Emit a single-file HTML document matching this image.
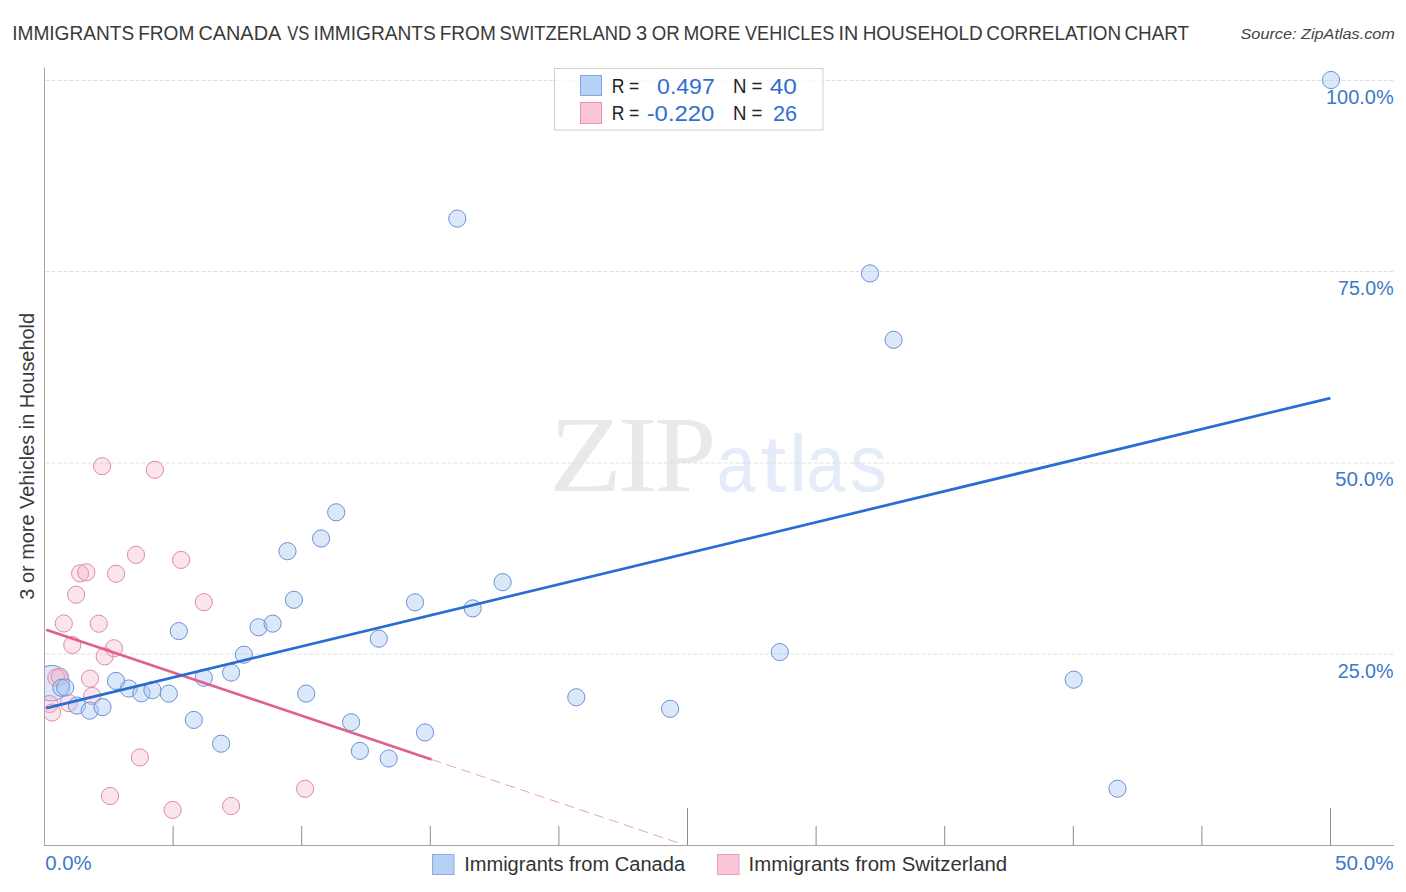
<!DOCTYPE html>
<html><head><meta charset="utf-8"><title>Immigrants from Canada vs Immigrants from Switzerland 3 or more Vehicles in Household Correlation Chart</title>
<style>
html,body{margin:0;padding:0;background:#fff;}
body{width:1406px;height:892px;overflow:hidden;position:relative;font-family:'Liberation Sans', sans-serif;}
svg{position:absolute;left:0;top:0;}
</style></head><body>
<svg width="1406" height="892" viewBox="0 0 1406 892">
<defs><clipPath id="pc"><rect x="45.0" y="60" width="1361.5" height="785.0"/></clipPath></defs>
<g>
<text transform="translate(12.18,39.9) scale(0.9744,1)" font-family="'Liberation Sans', sans-serif" font-style="normal" font-size="19.6" fill="#3a3a3a">IMMIGRANTS</text>
<text transform="translate(138.13,39.9) scale(0.9749,1)" font-family="'Liberation Sans', sans-serif" font-style="normal" font-size="19.6" fill="#3a3a3a">FROM</text>
<text transform="translate(198.4,39.9) scale(1.0149,1)" font-family="'Liberation Sans', sans-serif" font-style="normal" font-size="19.6" fill="#3a3a3a">CANADA</text>
<text transform="translate(287.19,39.9) scale(0.8436,1)" font-family="'Liberation Sans', sans-serif" font-style="normal" font-size="19.6" fill="#3a3a3a">VS</text>
<text transform="translate(313.57,39.9) scale(0.9758,1)" font-family="'Liberation Sans', sans-serif" font-style="normal" font-size="19.6" fill="#3a3a3a">IMMIGRANTS</text>
<text transform="translate(439.73,39.9) scale(0.9714,1)" font-family="'Liberation Sans', sans-serif" font-style="normal" font-size="19.6" fill="#3a3a3a">FROM</text>
<text transform="translate(499.58,39.9) scale(0.9389,1)" font-family="'Liberation Sans', sans-serif" font-style="normal" font-size="19.6" fill="#3a3a3a">SWITZERLAND</text>
<text transform="translate(636.12,39.9) scale(1.0255,1)" font-family="'Liberation Sans', sans-serif" font-style="normal" font-size="19.6" fill="#3a3a3a">3</text>
<text transform="translate(651.75,39.9) scale(0.954,1)" font-family="'Liberation Sans', sans-serif" font-style="normal" font-size="19.6" fill="#3a3a3a">OR</text>
<text transform="translate(683.62,39.9) scale(0.9658,1)" font-family="'Liberation Sans', sans-serif" font-style="normal" font-size="19.6" fill="#3a3a3a">MORE</text>
<text transform="translate(745.07,39.9) scale(0.9208,1)" font-family="'Liberation Sans', sans-serif" font-style="normal" font-size="19.6" fill="#3a3a3a">VEHICLES</text>
<text transform="translate(838.43,39.9) scale(1.0091,1)" font-family="'Liberation Sans', sans-serif" font-style="normal" font-size="19.6" fill="#3a3a3a">IN</text>
<text transform="translate(862.69,39.9) scale(0.9671,1)" font-family="'Liberation Sans', sans-serif" font-style="normal" font-size="19.6" fill="#3a3a3a">HOUSEHOLD</text>
<text transform="translate(986.26,39.9) scale(0.9634,1)" font-family="'Liberation Sans', sans-serif" font-style="normal" font-size="19.6" fill="#3a3a3a">CORRELATION</text>
<text transform="translate(1124.41,39.9) scale(0.9628,1)" font-family="'Liberation Sans', sans-serif" font-style="normal" font-size="19.6" fill="#3a3a3a">CHART</text>
</g>
<text transform="translate(1240.54,38.8) scale(1.0832,1)" font-family="'Liberation Sans', sans-serif" font-style="italic" font-size="15.0" fill="#444444">Source: ZipAtlas.com</text>
<text transform="translate(549.21,490.6) scale(1.0988,1)" font-family="'Liberation Serif', serif" font-style="normal" font-size="108.5" fill="#e9e9e9">Z</text>
<text transform="translate(617.62,490.6) scale(1.1065,1)" font-family="'Liberation Serif', serif" font-style="normal" font-size="108.5" fill="#e9e9e9">I</text>
<text transform="translate(654.36,490.6) scale(1.0299,1)" font-family="'Liberation Serif', serif" font-style="normal" font-size="108.5" fill="#e9e9e9">P</text>
<text transform="translate(716.52,491.0) scale(0.8672,1)" font-family="'Liberation Sans', sans-serif" font-style="normal" font-size="80.5" fill="#e4ecf9">a</text>
<text transform="translate(760.58,491.0) scale(1.1536,1)" font-family="'Liberation Sans', sans-serif" font-style="normal" font-size="80.5" fill="#e4ecf9">t</text>
<text transform="translate(788.71,491.0) scale(1.0471,1)" font-family="'Liberation Sans', sans-serif" font-style="normal" font-size="80.5" fill="#e4ecf9">l</text>
<text transform="translate(806.22,491.0) scale(0.8679,1)" font-family="'Liberation Sans', sans-serif" font-style="normal" font-size="80.5" fill="#e4ecf9">a</text>
<text transform="translate(849.73,491.0) scale(0.9291,1)" font-family="'Liberation Sans', sans-serif" font-style="normal" font-size="80.5" fill="#e4ecf9">s</text>
<line x1="45.5" y1="80.5" x2="1394" y2="80.5" stroke="#e0e0e0" stroke-width="1" stroke-dasharray="4 2"/>
<line x1="45.5" y1="271.5" x2="1394" y2="271.5" stroke="#e0e0e0" stroke-width="1" stroke-dasharray="4 2"/>
<line x1="45.5" y1="463.0" x2="1394" y2="463.0" stroke="#e0e0e0" stroke-width="1" stroke-dasharray="4 2"/>
<line x1="45.5" y1="654.0" x2="1394" y2="654.0" stroke="#e0e0e0" stroke-width="1" stroke-dasharray="4 2"/>
<line x1="44.5" y1="67.5" x2="44.5" y2="845.5" stroke="#a4a4a4" stroke-width="1"/>
<line x1="44.0" y1="845.5" x2="1394" y2="845.5" stroke="#a4a4a4" stroke-width="1"/>
<line x1="173.10" y1="826" x2="173.10" y2="845.0" stroke="#8c8c8c" stroke-width="1"/>
<line x1="301.70" y1="826" x2="301.70" y2="845.0" stroke="#8c8c8c" stroke-width="1"/>
<line x1="430.30" y1="826" x2="430.30" y2="845.0" stroke="#8c8c8c" stroke-width="1"/>
<line x1="558.90" y1="826" x2="558.90" y2="845.0" stroke="#8c8c8c" stroke-width="1"/>
<line x1="687.50" y1="808" x2="687.50" y2="845.0" stroke="#8c8c8c" stroke-width="1"/>
<line x1="816.10" y1="826" x2="816.10" y2="845.0" stroke="#8c8c8c" stroke-width="1"/>
<line x1="944.70" y1="826" x2="944.70" y2="845.0" stroke="#8c8c8c" stroke-width="1"/>
<line x1="1073.30" y1="826" x2="1073.30" y2="845.0" stroke="#8c8c8c" stroke-width="1"/>
<line x1="1201.90" y1="826" x2="1201.90" y2="845.0" stroke="#8c8c8c" stroke-width="1"/>
<line x1="1330.50" y1="808" x2="1330.50" y2="845.0" stroke="#8c8c8c" stroke-width="1"/>
<text transform="translate(1325.93,104.0) scale(1.0201,1)" font-family="'Liberation Sans', sans-serif" font-style="normal" font-size="19.6" fill="#3d78c9">100.0%</text>
<text transform="translate(1337.98,294.9) scale(1.0015,1)" font-family="'Liberation Sans', sans-serif" font-style="normal" font-size="19.6" fill="#3d78c9">75.0%</text>
<text transform="translate(1334.97,486.0) scale(1.0561,1)" font-family="'Liberation Sans', sans-serif" font-style="normal" font-size="19.6" fill="#3d78c9">50.0%</text>
<text transform="translate(1337.74,678.1) scale(1.0054,1)" font-family="'Liberation Sans', sans-serif" font-style="normal" font-size="19.6" fill="#3d78c9">25.0%</text>
<text transform="translate(45.21,869.8) scale(1.0404,1)" font-family="'Liberation Sans', sans-serif" font-style="normal" font-size="19.6" fill="#3d78c9">0.0%</text>
<text transform="translate(1334.97,869.6) scale(1.0561,1)" font-family="'Liberation Sans', sans-serif" font-style="normal" font-size="19.6" fill="#3d78c9">50.0%</text>
<text transform="translate(33.6,599.66) rotate(-90) scale(0.9965,1)" font-family="'Liberation Sans', sans-serif" font-size="20.0" fill="#3a3a3a">3 or more Vehicles in Household</text>
<g clip-path="url(#pc)">
<circle cx="51.5" cy="683.2" r="17.8" fill="#a9c9f2" fill-opacity="0.42" stroke="#6c91d9" stroke-width="1"/>
<circle cx="102.1" cy="466.2" r="8.6" fill="#f7b0c8" fill-opacity="0.34" stroke="#df8ba7" stroke-width="1"/>
<circle cx="154.9" cy="469.8" r="8.6" fill="#f7b0c8" fill-opacity="0.34" stroke="#df8ba7" stroke-width="1"/>
<circle cx="136" cy="554.8" r="8.6" fill="#f7b0c8" fill-opacity="0.34" stroke="#df8ba7" stroke-width="1"/>
<circle cx="181.1" cy="559.9" r="8.6" fill="#f7b0c8" fill-opacity="0.34" stroke="#df8ba7" stroke-width="1"/>
<circle cx="80.1" cy="573.4" r="8.6" fill="#f7b0c8" fill-opacity="0.34" stroke="#df8ba7" stroke-width="1"/>
<circle cx="86.3" cy="572.3" r="8.6" fill="#f7b0c8" fill-opacity="0.34" stroke="#df8ba7" stroke-width="1"/>
<circle cx="116.1" cy="573.7" r="8.6" fill="#f7b0c8" fill-opacity="0.34" stroke="#df8ba7" stroke-width="1"/>
<circle cx="76.1" cy="594.7" r="8.6" fill="#f7b0c8" fill-opacity="0.34" stroke="#df8ba7" stroke-width="1"/>
<circle cx="203.8" cy="602.2" r="8.6" fill="#f7b0c8" fill-opacity="0.34" stroke="#df8ba7" stroke-width="1"/>
<circle cx="63.8" cy="623.5" r="8.6" fill="#f7b0c8" fill-opacity="0.34" stroke="#df8ba7" stroke-width="1"/>
<circle cx="98.8" cy="623.7" r="8.6" fill="#f7b0c8" fill-opacity="0.34" stroke="#df8ba7" stroke-width="1"/>
<circle cx="72.3" cy="645.0" r="8.6" fill="#f7b0c8" fill-opacity="0.34" stroke="#df8ba7" stroke-width="1"/>
<circle cx="113.9" cy="648.3" r="8.6" fill="#f7b0c8" fill-opacity="0.34" stroke="#df8ba7" stroke-width="1"/>
<circle cx="104.7" cy="656.4" r="8.6" fill="#f7b0c8" fill-opacity="0.34" stroke="#df8ba7" stroke-width="1"/>
<circle cx="56.3" cy="677.7" r="8.6" fill="#f7b0c8" fill-opacity="0.34" stroke="#df8ba7" stroke-width="1"/>
<circle cx="59.9" cy="676.6" r="8.6" fill="#f7b0c8" fill-opacity="0.34" stroke="#df8ba7" stroke-width="1"/>
<circle cx="90.0" cy="678.7" r="8.6" fill="#f7b0c8" fill-opacity="0.34" stroke="#df8ba7" stroke-width="1"/>
<circle cx="92.2" cy="696.0" r="8.6" fill="#f7b0c8" fill-opacity="0.34" stroke="#df8ba7" stroke-width="1"/>
<circle cx="68.8" cy="703.1" r="8.6" fill="#f7b0c8" fill-opacity="0.34" stroke="#df8ba7" stroke-width="1"/>
<circle cx="49.5" cy="704.0" r="8.6" fill="#f7b0c8" fill-opacity="0.34" stroke="#df8ba7" stroke-width="1"/>
<circle cx="52.1" cy="712.5" r="8.6" fill="#f7b0c8" fill-opacity="0.34" stroke="#df8ba7" stroke-width="1"/>
<circle cx="305.1" cy="788.8" r="8.6" fill="#f7b0c8" fill-opacity="0.34" stroke="#df8ba7" stroke-width="1"/>
<circle cx="139.9" cy="757.4" r="8.6" fill="#f7b0c8" fill-opacity="0.34" stroke="#df8ba7" stroke-width="1"/>
<circle cx="110" cy="796" r="8.6" fill="#f7b0c8" fill-opacity="0.34" stroke="#df8ba7" stroke-width="1"/>
<circle cx="172.6" cy="809.9" r="8.6" fill="#f7b0c8" fill-opacity="0.34" stroke="#df8ba7" stroke-width="1"/>
<circle cx="231.1" cy="806" r="8.6" fill="#f7b0c8" fill-opacity="0.34" stroke="#df8ba7" stroke-width="1"/>
<circle cx="1331" cy="80" r="8.6" fill="#a9c9f2" fill-opacity="0.42" stroke="#6c91d9" stroke-width="1"/>
<circle cx="457.3" cy="218.6" r="8.6" fill="#a9c9f2" fill-opacity="0.42" stroke="#6c91d9" stroke-width="1"/>
<circle cx="870" cy="273.4" r="8.6" fill="#a9c9f2" fill-opacity="0.42" stroke="#6c91d9" stroke-width="1"/>
<circle cx="893.6" cy="339.8" r="8.6" fill="#a9c9f2" fill-opacity="0.42" stroke="#6c91d9" stroke-width="1"/>
<circle cx="336.2" cy="512.3" r="8.6" fill="#a9c9f2" fill-opacity="0.42" stroke="#6c91d9" stroke-width="1"/>
<circle cx="321.1" cy="538.5" r="8.6" fill="#a9c9f2" fill-opacity="0.42" stroke="#6c91d9" stroke-width="1"/>
<circle cx="287.5" cy="551.2" r="8.6" fill="#a9c9f2" fill-opacity="0.42" stroke="#6c91d9" stroke-width="1"/>
<circle cx="293.9" cy="599.8" r="8.6" fill="#a9c9f2" fill-opacity="0.42" stroke="#6c91d9" stroke-width="1"/>
<circle cx="415" cy="602.3" r="8.6" fill="#a9c9f2" fill-opacity="0.42" stroke="#6c91d9" stroke-width="1"/>
<circle cx="378.8" cy="638.7" r="8.6" fill="#a9c9f2" fill-opacity="0.42" stroke="#6c91d9" stroke-width="1"/>
<circle cx="178.8" cy="631.1" r="8.6" fill="#a9c9f2" fill-opacity="0.42" stroke="#6c91d9" stroke-width="1"/>
<circle cx="258.5" cy="627.3" r="8.6" fill="#a9c9f2" fill-opacity="0.42" stroke="#6c91d9" stroke-width="1"/>
<circle cx="272.6" cy="623.6" r="8.6" fill="#a9c9f2" fill-opacity="0.42" stroke="#6c91d9" stroke-width="1"/>
<circle cx="243.9" cy="654.7" r="8.6" fill="#a9c9f2" fill-opacity="0.42" stroke="#6c91d9" stroke-width="1"/>
<circle cx="231.1" cy="672.6" r="8.6" fill="#a9c9f2" fill-opacity="0.42" stroke="#6c91d9" stroke-width="1"/>
<circle cx="203.8" cy="677.7" r="8.6" fill="#a9c9f2" fill-opacity="0.42" stroke="#6c91d9" stroke-width="1"/>
<circle cx="128.7" cy="688.5" r="8.6" fill="#a9c9f2" fill-opacity="0.42" stroke="#6c91d9" stroke-width="1"/>
<circle cx="141.4" cy="693.3" r="8.6" fill="#a9c9f2" fill-opacity="0.42" stroke="#6c91d9" stroke-width="1"/>
<circle cx="152.4" cy="690.1" r="8.6" fill="#a9c9f2" fill-opacity="0.42" stroke="#6c91d9" stroke-width="1"/>
<circle cx="168.8" cy="693.6" r="8.6" fill="#a9c9f2" fill-opacity="0.42" stroke="#6c91d9" stroke-width="1"/>
<circle cx="193.8" cy="719.9" r="8.6" fill="#a9c9f2" fill-opacity="0.42" stroke="#6c91d9" stroke-width="1"/>
<circle cx="306.2" cy="693.6" r="8.6" fill="#a9c9f2" fill-opacity="0.42" stroke="#6c91d9" stroke-width="1"/>
<circle cx="351.1" cy="722.2" r="8.6" fill="#a9c9f2" fill-opacity="0.42" stroke="#6c91d9" stroke-width="1"/>
<circle cx="359.9" cy="750.9" r="8.6" fill="#a9c9f2" fill-opacity="0.42" stroke="#6c91d9" stroke-width="1"/>
<circle cx="388.7" cy="758.5" r="8.6" fill="#a9c9f2" fill-opacity="0.42" stroke="#6c91d9" stroke-width="1"/>
<circle cx="425" cy="732.4" r="8.6" fill="#a9c9f2" fill-opacity="0.42" stroke="#6c91d9" stroke-width="1"/>
<circle cx="116" cy="680.9" r="8.6" fill="#a9c9f2" fill-opacity="0.42" stroke="#6c91d9" stroke-width="1"/>
<circle cx="76.9" cy="705.6" r="8.6" fill="#a9c9f2" fill-opacity="0.42" stroke="#6c91d9" stroke-width="1"/>
<circle cx="89.7" cy="710.6" r="8.6" fill="#a9c9f2" fill-opacity="0.42" stroke="#6c91d9" stroke-width="1"/>
<circle cx="102.5" cy="707.1" r="8.6" fill="#a9c9f2" fill-opacity="0.42" stroke="#6c91d9" stroke-width="1"/>
<circle cx="61.3" cy="687.8" r="8.6" fill="#a9c9f2" fill-opacity="0.42" stroke="#6c91d9" stroke-width="1"/>
<circle cx="65.2" cy="687.5" r="8.6" fill="#a9c9f2" fill-opacity="0.42" stroke="#6c91d9" stroke-width="1"/>
<circle cx="221.1" cy="743.7" r="8.6" fill="#a9c9f2" fill-opacity="0.42" stroke="#6c91d9" stroke-width="1"/>
<circle cx="472.7" cy="608.4" r="8.6" fill="#a9c9f2" fill-opacity="0.42" stroke="#6c91d9" stroke-width="1"/>
<circle cx="502.6" cy="582.2" r="8.6" fill="#a9c9f2" fill-opacity="0.42" stroke="#6c91d9" stroke-width="1"/>
<circle cx="576.3" cy="697.3" r="8.6" fill="#a9c9f2" fill-opacity="0.42" stroke="#6c91d9" stroke-width="1"/>
<circle cx="670.1" cy="708.8" r="8.6" fill="#a9c9f2" fill-opacity="0.42" stroke="#6c91d9" stroke-width="1"/>
<circle cx="779.8" cy="652.1" r="8.6" fill="#a9c9f2" fill-opacity="0.42" stroke="#6c91d9" stroke-width="1"/>
<circle cx="1073.7" cy="679.7" r="8.6" fill="#a9c9f2" fill-opacity="0.42" stroke="#6c91d9" stroke-width="1"/>
<circle cx="1117.5" cy="788.7" r="8.6" fill="#a9c9f2" fill-opacity="0.42" stroke="#6c91d9" stroke-width="1"/>
</g>
<line x1="46.2" y1="629.7" x2="431.6" y2="759.5" stroke="#e0608c" stroke-width="2.7"/>
<line x1="431.6" y1="759.5" x2="678" y2="842.8" stroke="#e0608c" stroke-opacity="0.6" stroke-width="1" stroke-dasharray="10 5.6"/>
<line x1="46.2" y1="708.1" x2="1330.4" y2="398.1" stroke="#2a6dd2" stroke-width="2.7"/>
<rect x="554.5" y="68.5" width="268.5" height="61.5" fill="#ffffff" fill-opacity="0.75" stroke="#d0d0d0" stroke-width="1"/>
<rect x="580.5" y="75.5" width="21" height="20" fill="#b5d2f6" stroke="#7ea8e2" stroke-width="1"/>
<rect x="580.5" y="102.5" width="21" height="21" fill="#f9c6d6" stroke="#e895b0" stroke-width="1"/>
<text transform="translate(611.63,92.9) scale(0.884,1)" font-family="'Liberation Sans', sans-serif" font-style="normal" font-size="19.8" fill="#222222">R =</text>
<text transform="translate(611.63,119.8) scale(0.884,1)" font-family="'Liberation Sans', sans-serif" font-style="normal" font-size="19.8" fill="#222222">R =</text>
<text transform="translate(657.08,93.7) scale(1.0483,1)" font-family="'Liberation Sans', sans-serif" font-style="normal" font-size="22.0" fill="#2f6fd0">0.497</text>
<text transform="translate(646.67,120.9) scale(1.0852,1)" font-family="'Liberation Sans', sans-serif" font-style="normal" font-size="22.0" fill="#2f6fd0">-0.220</text>
<text transform="translate(732.96,92.9) scale(0.9421,1)" font-family="'Liberation Sans', sans-serif" font-style="normal" font-size="19.8" fill="#222222">N =</text>
<text transform="translate(732.96,119.8) scale(0.9421,1)" font-family="'Liberation Sans', sans-serif" font-style="normal" font-size="19.8" fill="#222222">N =</text>
<text transform="translate(769.75,93.8) scale(1.1078,1)" font-family="'Liberation Sans', sans-serif" font-style="normal" font-size="22.0" fill="#2f6fd0">40</text>
<text transform="translate(772.94,120.8) scale(0.9785,1)" font-family="'Liberation Sans', sans-serif" font-style="normal" font-size="22.0" fill="#2f6fd0">26</text>
<rect x="432.5" y="854.5" width="21.5" height="20" fill="#b5d2f6" stroke="#88aee2" stroke-width="1"/>
<text transform="translate(464.13,870.9) scale(1.0143,1)" font-family="'Liberation Sans', sans-serif" font-style="normal" font-size="19.8" fill="#333333">Immigrants from Canada</text>
<rect x="717.5" y="854.5" width="21.5" height="20" fill="#f9c6d6" stroke="#e8a0b8" stroke-width="1"/>
<text transform="translate(748.52,870.9) scale(1.0315,1)" font-family="'Liberation Sans', sans-serif" font-style="normal" font-size="19.8" fill="#333333">Immigrants from Switzerland</text>
</svg>
</body></html>
